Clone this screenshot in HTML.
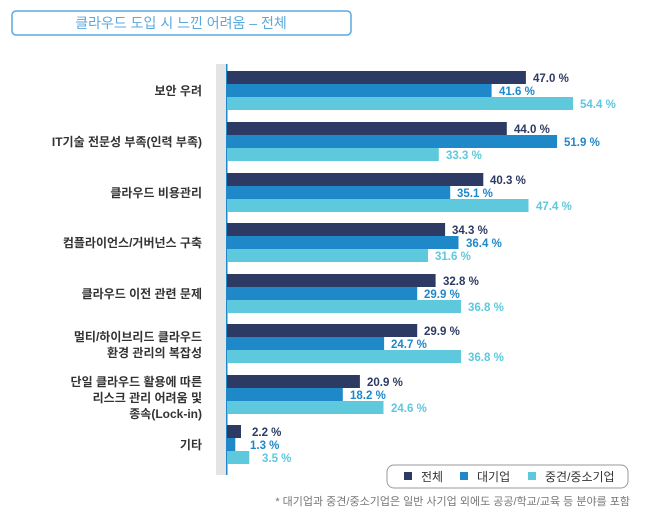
<!DOCTYPE html>
<html><head><meta charset="utf-8"><style>
body{margin:0;background:#fff;}
svg text{font-family:"Liberation Sans","Noto Sans CJK KR",sans-serif;}
.v{font-size:11.5px;font-weight:bold;}
</style></head><body>
<svg width="646" height="522" xmlns="http://www.w3.org/2000/svg">
<rect x="12" y="11" width="339" height="24" rx="4" fill="#fff" stroke="#5aa9dd" stroke-width="1.5"/>
<text x="181" y="28" font-size="14" fill="#5aa9dd" text-anchor="middle">클라우드 도입 시 느낀 어려움 – 전체</text>
<rect x="216" y="64" width="10" height="411" fill="#e4e4e4"/>
<rect x="226" y="64" width="1.5" height="411" fill="#1e88c9"/>
<g>
<rect x="227" y="71" width="298.9" height="13" fill="#2d3a63"/>
<rect x="227" y="84" width="264.6" height="13" fill="#1e88c9"/>
<rect x="227" y="97" width="346.0" height="13" fill="#5ec8dc"/>
<rect x="227" y="122" width="279.8" height="13" fill="#2d3a63"/>
<rect x="227" y="135" width="330.1" height="13" fill="#1e88c9"/>
<rect x="227" y="148" width="211.8" height="13" fill="#5ec8dc"/>
<rect x="227" y="173" width="256.3" height="13" fill="#2d3a63"/>
<rect x="227" y="186" width="223.2" height="13" fill="#1e88c9"/>
<rect x="227" y="199" width="301.5" height="13" fill="#5ec8dc"/>
<rect x="227" y="223" width="218.1" height="13" fill="#2d3a63"/>
<rect x="227" y="236" width="231.5" height="13" fill="#1e88c9"/>
<rect x="227" y="249" width="201.0" height="13" fill="#5ec8dc"/>
<rect x="227" y="274" width="208.6" height="13" fill="#2d3a63"/>
<rect x="227" y="287" width="190.2" height="13" fill="#1e88c9"/>
<rect x="227" y="300" width="234.0" height="13" fill="#5ec8dc"/>
<rect x="227" y="324" width="190.2" height="13" fill="#2d3a63"/>
<rect x="227" y="337" width="157.1" height="13" fill="#1e88c9"/>
<rect x="227" y="350" width="234.0" height="13" fill="#5ec8dc"/>
<rect x="227" y="375" width="132.9" height="13" fill="#2d3a63"/>
<rect x="227" y="388" width="115.8" height="13" fill="#1e88c9"/>
<rect x="227" y="401" width="156.5" height="13" fill="#5ec8dc"/>
<rect x="227" y="425" width="14.0" height="13" fill="#2d3a63"/>
<rect x="227" y="438" width="8.3" height="13" fill="#1e88c9"/>
<rect x="227" y="451" width="22.3" height="13" fill="#5ec8dc"/>
</g>
<g class="v">
<text class="v" x="533" y="82" fill="#2d3a63">47.0 %</text>
<text class="v" x="499" y="95" fill="#1e88c9">41.6 %</text>
<text class="v" x="580" y="108" fill="#5ec8dc">54.4 %</text>
<text class="v" x="514" y="133" fill="#2d3a63">44.0 %</text>
<text class="v" x="564" y="146" fill="#1e88c9">51.9 %</text>
<text class="v" x="446" y="159" fill="#5ec8dc">33.3 %</text>
<text class="v" x="490" y="184" fill="#2d3a63">40.3 %</text>
<text class="v" x="457" y="197" fill="#1e88c9">35.1 %</text>
<text class="v" x="536" y="210" fill="#5ec8dc">47.4 %</text>
<text class="v" x="452" y="234" fill="#2d3a63">34.3 %</text>
<text class="v" x="466" y="247" fill="#1e88c9">36.4 %</text>
<text class="v" x="435" y="260" fill="#5ec8dc">31.6 %</text>
<text class="v" x="443" y="285" fill="#2d3a63">32.8 %</text>
<text class="v" x="424" y="298" fill="#1e88c9">29.9 %</text>
<text class="v" x="468" y="311" fill="#5ec8dc">36.8 %</text>
<text class="v" x="424" y="335" fill="#2d3a63">29.9 %</text>
<text class="v" x="391" y="348" fill="#1e88c9">24.7 %</text>
<text class="v" x="468" y="361" fill="#5ec8dc">36.8 %</text>
<text class="v" x="367" y="386" fill="#2d3a63">20.9 %</text>
<text class="v" x="350" y="399" fill="#1e88c9">18.2 %</text>
<text class="v" x="391" y="412" fill="#5ec8dc">24.6 %</text>
<text class="v" x="252" y="436" fill="#2d3a63">2.2 %</text>
<text class="v" x="250" y="449" fill="#1e88c9">1.3 %</text>
<text class="v" x="262" y="462" fill="#5ec8dc">3.5 %</text>
</g>
<g font-size="12" font-weight="bold" fill="#333" text-anchor="end">
<text x="202" y="95">보안 우려</text>
<text x="202" y="146">IT기술 전문성 부족(인력 부족)</text>
<text x="202" y="197">클라우드 비용관리</text>
<text x="202" y="247">컴플라이언스/거버넌스 구축</text>
<text x="202" y="298">클라우드 이전 관련 문제</text>
<text x="202" y="341">멀티/하이브리드 클라우드</text>
<text x="202" y="357">환경 관리의 복잡성</text>
<text x="202" y="386">단일 클라우드 활용에 따른</text>
<text x="202" y="402">리스크 관리 어려움 및</text>
<text x="202" y="418">종속(Lock-in)</text>
<text x="202" y="449">기타</text>
</g>
<rect x="387" y="465" width="241" height="23" rx="7" fill="#fff" stroke="#999" stroke-width="1"/>
<rect x="404" y="472" width="8" height="8" fill="#2d3a63"/>
<text x="421" y="481" font-size="12" fill="#333">전체</text>
<rect x="460" y="472" width="8" height="8" fill="#1e88c9"/>
<text x="477" y="481" font-size="12" fill="#333">대기업</text>
<rect x="528" y="472" width="8" height="8" fill="#5ec8dc"/>
<text x="545" y="481" font-size="12" fill="#333">중견/중소기업</text>
<text x="630" y="505" font-size="11" fill="#777" text-anchor="end">* 대기업과 중견/중소기업은 일반 사기업 외에도 공공/학교/교육 등 분야를 포함</text>
</svg>
</body></html>
